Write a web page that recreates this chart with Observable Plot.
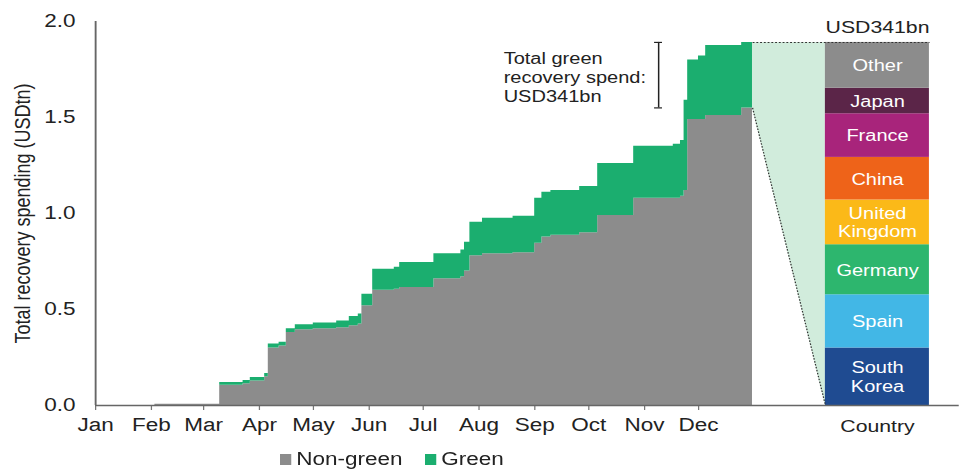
<!DOCTYPE html>
<html>
<head>
<meta charset="utf-8">
<script src="https://cdn.jsdelivr.net/npm/d3@7"></script>
<script src="https://cdn.jsdelivr.net/npm/@observablehq/plot@0.6"></script>
<style>
  html, body { margin: 0; padding: 0; background: #fff; }
  #wrap { width: 767.2px; transform: scaleX(1.25); transform-origin: 0 0;
          font-family: "Liberation Sans", Arial, sans-serif; color: #222; }
  #legend { height: 24px; display: flex; align-items: center; font-size: 18px; margin-left: 224px; }
  #legend .item { display: flex; align-items: center; margin-right: 18px; }
  #legend .sw { width: 9px; height: 11px; margin-right: 4px; }
  g[aria-label="x-axis tick"] { stroke: #777; }
  g[aria-label="x-axis"] .tick line { stroke: #777; }
</style>
</head>
<body>
<div id="wrap"><div id="chart"></div><div id="legend"></div></div>
<script>
// ---------- data ----------
const stepDates = ["2020-01-01","2020-02-03","2020-03-10","2020-03-23","2020-03-27","2020-04-04",
  "2020-04-06","2020-04-12","2020-04-16","2020-04-21","2020-05-01","2020-05-14","2020-05-21",
  "2020-05-26","2020-05-28","2020-06-03","2020-06-15","2020-06-18","2020-07-07","2020-07-22",
  "2020-07-24","2020-07-27","2020-08-03","2020-08-20","2020-09-01","2020-09-05","2020-09-10",
  "2020-09-26","2020-10-06","2020-10-26","2020-11-17","2020-11-21","2020-11-23","2020-11-25",
  "2020-12-01","2020-12-05","2020-12-25","2020-12-31"];
const nonGreen = [0, 0.007, 0.105, 0.113, 0.128, 0.150,
  0.300, 0.310, 0.380, 0.395, 0.400, 0.405, 0.415,
  0.425, 0.520, 0.600, 0.605, 0.615, 0.660, 0.670,
  0.700, 0.780, 0.790, 0.795, 0.845, 0.877, 0.887,
  0.900, 0.990, 1.080, 1.080, 1.090, 1.120, 1.490,
  1.490, 1.510, 1.550, 1.550];
const green = [0, 0, 0.015, 0.017, 0.018, 0.017,
  0.020, 0.020, 0.020, 0.025, 0.030, 0.035, 0.048,
  0.052, 0.060, 0.110, 0.115, 0.130, 0.130, 0.140,
  0.150, 0.175, 0.185, 0.190, 0.235, 0.233, 0.233,
  0.240, 0.270, 0.270, 0.280, 0.290, 0.470, 0.310,
  0.330, 0.365, 0.341, 0.341];
const seriesNames = ["Non-green", "Green"];
const seriesColors = ["#8c8c8c", "#1bae6f"];
const monthLabels = ["Jan","Feb","Mar","Apr","May","Jun","Jul","Aug","Sep","Oct","Nov","Dec"];
const yTicks = [0, 0.5, 1.0, 1.5, 2.0];
const countries = ["South Korea","Spain","Germany","United Kingdom","China","France","Japan","Other"];
const countryLabels = ["South\nKorea","Spain","Germany","United\nKingdom","China","France","Japan","Other"];
const countrySpendBn = [54, 50, 47, 42, 40, 41, 24, 43];
const countryColors = ["#1f4b91","#42b7e6","#2db66e","#fbb918","#ee6319","#a8247b","#5b2548","#8c8c8c"];
const totalGreenBn = 341;
const annotationLines = ["Total green", "recovery spend:", "USD341bn"];

// ---------- layout constants (x in days since 1 Jan 2020) ----------
const xMax = 480, barX1 = 405.5, barX2 = 463.3, annX = 226.7, bracketX = 312.8;

// ---------- derived ----------
const start = new Date(Date.UTC(2020, 0, 1));
const dayOf = s => d3.utcDay.count(start, new Date(s + "T00:00:00Z"));
const rows = stepDates.map((s, i) => ({day: dayOf(s), ng: nonGreen[i], total: nonGreen[i] + green[i]}));
const last = rows[rows.length - 1];
const endDay = last.day;
const monthDays = d3.utcMonth.range(start, new Date(Date.UTC(2021, 0, 1))).map(d => d3.utcDay.count(start, d));
const k = last.total / d3.sum(countrySpendBn);
const cum = d3.cumsum(countrySpendBn);
const bars = countries.map((c, i) => ({
  country: c, label: countryLabels[i], color: countryColors[i],
  y1: (cum[i] - countrySpendBn[i]) * k, y2: cum[i] * k
}));
const barMid = (barX1 + barX2) / 2;

const plot = Plot.plot({
  width: 767.2, height: 448,
  marginLeft: 76, marginRight: 0, marginTop: 21, marginBottom: 43,
  style: {fontFamily: '"Liberation Sans", Arial, sans-serif', fontSize: "18px", color: "#222", background: "#fff"},
  x: {domain: [0, xMax], ticks: monthDays, tickFormat: d => monthLabels[monthDays.indexOf(d)],
      tickSize: 5, tickPadding: 8, label: null},
  y: {domain: [0, 2], ticks: yTicks, tickFormat: d3.format(".1f"), tickSize: 0, tickPadding: 16, label: null},
  marks: [
    // trapezoid linking green slice to the country bar
    Plot.areaY([{x: endDay, y1: last.ng, y2: last.total}, {x: barX1, y1: 0, y2: last.total}],
      {x: "x", y1: "y1", y2: "y2", fill: "#d1ecdc"}),
    // stacked step areas
    Plot.areaY(rows, {x: "day", y1: 0, y2: "ng", curve: "step-after", fill: seriesColors[0]}),
    Plot.areaY(rows, {x: "day", y1: "ng", y2: "total", curve: "step-after", fill: seriesColors[1]}),
    // country bar
    Plot.rect(bars, {x1: () => barX1, x2: () => barX2, y1: "y1", y2: "y2", fill: d => d.color}),
    Plot.text(bars, {x: () => barMid, y: d => (d.y1 + d.y2) / 2, text: "label", fill: "white",
      fontSize: 16, lineHeight: 1.15}),
    // dotted connectors
    Plot.link([{x1: endDay, y1: last.total, x2: barX2, y2: last.total},
               {x1: endDay, y1: last.ng, x2: barX1, y2: 0}],
      {x1: "x1", y1: "y1", x2: "x2", y2: "y2", stroke: "#333", strokeWidth: 1, strokeDasharray: "1.5,1.5"}),
    // bracket + annotation
    Plot.ruleX([bracketX], {y1: last.ng, y2: last.total, stroke: "#222", strokeWidth: 1.2}),
    Plot.ruleY([last.ng, last.total], {x1: bracketX - 2.2, x2: bracketX + 2.2, stroke: "#222", strokeWidth: 1.2}),
    Plot.text([annotationLines.join("\n")], {x: () => annX, y: () => (last.ng + last.total) / 2, dy: 2,
      textAnchor: "start", fontSize: 16, lineHeight: 1.2, fill: "#222"}),
    Plot.text([`USD${totalGreenBn}bn`], {x: () => barMid, y: () => last.total, dy: -15, fontSize: 17, fill: "#222"}),
    Plot.text(["Country"], {x: () => barMid, y: () => 0, dy: 21, fontSize: 17, fill: "#222"}),
    // axis lines
    Plot.ruleY([0], {stroke: "#666", strokeWidth: 1.5}),
    Plot.ruleX([0], {y1: 0, y2: 2, stroke: "#666", strokeWidth: 1.5}),
    // y label
    Plot.text(["Total recovery spending (USDtn)"], {frameAnchor: "left", textAnchor: "middle", dx: -58, rotate: -90,
      fontSize: 18, fill: "#222"})
  ]
});
document.getElementById("chart").appendChild(plot);

const legend = document.getElementById("legend");
seriesNames.forEach((n, i) => {
  const it = document.createElement("div");
  it.className = "item";
  it.innerHTML = `<span class="sw" style="background:${seriesColors[i]}"></span><span>${n}</span>`;
  legend.appendChild(it);
});
</script>
</body>
</html>
